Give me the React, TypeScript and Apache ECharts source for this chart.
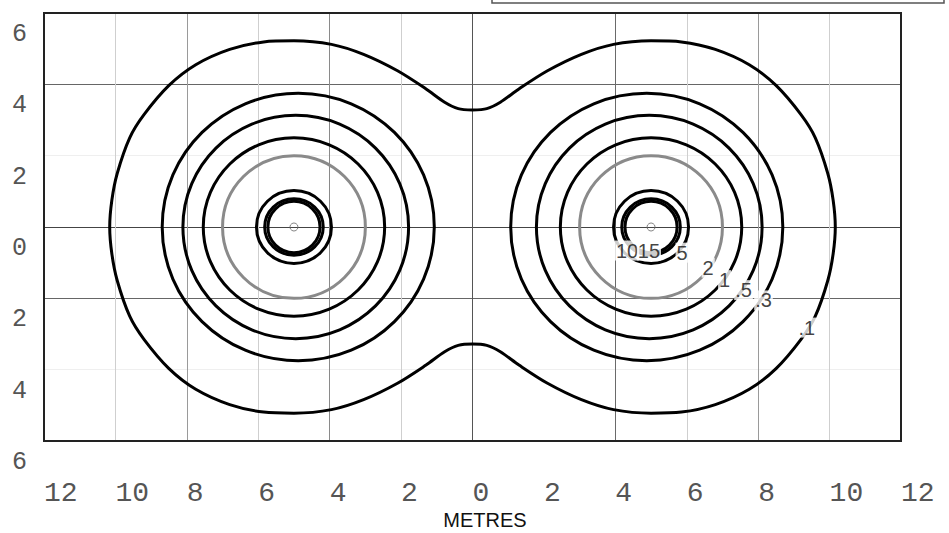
import React, { useEffect, useRef } from "react";
import * as echarts from "echarts";

// Axis ticks (labels shown as distance from centre)
const xTickValues = [-12, -10, -8, -6, -4, -2, 0, 2, 4, 6, 8, 10, 12];
const yTickValues = [-6, -4, -2, 0, 2, 4, 6];
const xGridColors = ["#222", "#cfcfcf", "#9a9a9a", "#cfcfcf", "#8a8a8a", "#cfcfcf", "#555", "rgba(0,0,0,0)", "#6a6a6a", "#cfcfcf", "#9a9a9a", "#cfcfcf", "#222"];
const yGridColors = ["#222", "#efefef", "#666", "#444", "#efefef", "#666", "#222"];

// Light sources (metres)
const sourceX = [-5, 5];
const sourceY = [0, 0];

// Closed contours around each source (level, radii in metres, shift toward centre)
const ringLevels = ["15", "10", "5", "2", "1", ".5", ".3"];
const ringRx = [0.73, 0.82, 1.05, 2.0, 2.54, 3.16, 3.81];
const ringRy = [0.72, 0.79, 1.02, 2.0, 2.5, 3.13, 3.75];
const ringShift = [0, 0, 0, 0, 0, 0.05, 0.12];
const ringColors = ["#000", "#000", "#000", "#8a8a8a", "#000", "#000", "#000"];

// Outer .1 contour, upper-right quadrant (the figure is symmetric)
const outerQuadX = [0, 0.4, 0.78, 1.3, 2.1, 3.05, 3.95, 5.0, 5.85, 6.8, 7.75, 8.5, 9.2, 9.6, 9.95, 10.1, 10.16];
const outerQuadY = [3.28, 3.32, 3.5, 3.87, 4.38, 4.84, 5.12, 5.22, 5.19, 4.98, 4.55, 3.97, 3.15, 2.5, 1.5, 0.75, 0];

// Contour value labels
const labelText = ["10", "15", "5", "2", "1", ".5", ".3", ".1"];
const labelX = [4.33, 4.94, 5.87, 6.6, 7.06, 7.59, 8.15, 9.36];
const labelY = [-0.66, -0.66, -0.72, -1.14, -1.49, -1.77, -2.06, -2.82];

function buildOuter(): number[][] {
  const pts: number[][] = [];
  const n = outerQuadX.length;
  for (let i = 0; i < n; i++) pts.push([outerQuadX[i], outerQuadY[i]]);
  for (let i = n - 2; i >= 0; i--) pts.push([outerQuadX[i], -outerQuadY[i]]);
  for (let i = 1; i < n; i++) pts.push([-outerQuadX[i], -outerQuadY[i]]);
  for (let i = n - 2; i >= 0; i--) pts.push([-outerQuadX[i], outerQuadY[i]]);
  return pts;
}

export default function App() {
  const ref = useRef<HTMLDivElement>(null);
  useEffect(() => {
    if (!ref.current) return;
    const chart = echarts.init(ref.current, undefined, { renderer: "svg" });

    const ringData: any[] = [];
    sourceX.forEach((sx, si) => {
      ringLevels.forEach((lv, ri) => {
        const dir = sx < 0 ? 1 : -1;
        ringData.push({ name: lv, value: [sx + dir * ringShift[ri], sourceY[si], ringRx[ri], ringRy[ri], ri] });
      });
    });

    const option: any = {
      animation: false,
      backgroundColor: "#fff",
      grid: { left: 44, top: 13, width: 857, height: 428, show: false },
      xAxis: {
        type: "value",
        min: -12,
        max: 12,
        interval: 2,
        axisLine: { show: false },
        axisTick: { show: false },
        splitLine: { show: true, lineStyle: { color: xGridColors, width: 1 } },
        axisLabel: {
          formatter: (v: number) => String(Math.abs(v)),
          align: "left",
          margin: 38,
          fontSize: 28,
          fontFamily: "Liberation Mono",
          color: "#555",
        },
      },
      yAxis: {
        type: "value",
        min: -6,
        max: 6,
        interval: 2,
        axisLine: { show: false },
        axisTick: { show: false },
        splitLine: { show: true, lineStyle: { color: yGridColors, width: 1 } },
        axisLabel: {
          formatter: (v: number) => String(Math.abs(v)),
          align: "right",
          verticalAlign: "top",
          padding: [9, 0, 0, 0],
          margin: 17,
          fontSize: 25,
          fontFamily: "Liberation Mono",
          color: "#555",
        },
      },
      graphic: [
        {
          type: "rect",
          shape: { x: 44, y: 13, width: 857, height: 428 },
          style: { fill: "none", stroke: "#222", lineWidth: 2 },
          z: 100,
          silent: true,
        },
        {
          type: "rect",
          shape: { x: 492, y: -6, width: 452, height: 9 },
          style: { fill: "#fff", stroke: "#555", lineWidth: 1.5 },
          z: 100,
        },
        {
          type: "text",
          x: 485,
          y: 520,
          style: { text: "METRES", fontSize: 20, fontFamily: "Liberation Sans", fill: "#111", align: "center", verticalAlign: "middle" },
          z: 100,
        },
      ],
      series: [
        {
          type: "line",
          name: ".1",
          data: buildOuter(),
          showSymbol: false,
          symbol: "none",
          smooth: 0.3,
          lineStyle: { color: "#000", width: 3 },
          z: 3,
        },
        {
          type: "custom",
          name: "rings",
          data: ringData,
          renderItem: (params: any, api: any) => {
            const c = api.coord([api.value(0), api.value(1)]);
            const rx = api.size([api.value(2), 0])[0];
            const ry = api.size([0, api.value(3)])[1];
            const ri = api.value(4);
            return {
              type: "ellipse",
              shape: { cx: c[0], cy: c[1], rx, ry },
              style: { fill: "none", stroke: ringColors[ri], lineWidth: 3 },
            };
          },
          z: 3,
        },
        {
          type: "scatter",
          name: "sources",
          data: sourceX.map((x, i) => [x, sourceY[i]]),
          symbol: "circle",
          symbolSize: 8,
          itemStyle: { color: "rgba(255,255,255,0)", borderColor: "#666", borderWidth: 1 },
          z: 4,
        },
        {
          type: "scatter",
          name: "labels",
          data: labelText.map((t, i) => ({ name: t, value: [labelX[i], labelY[i]] })),
          symbolSize: 1,
          itemStyle: { color: "rgba(0,0,0,0)" },
          label: {
            show: true,
            position: "inside",
            formatter: (p: any) => p.name,
            fontSize: 20,
            fontFamily: "Liberation Sans",
            color: "#111",
            backgroundColor: "#fff",
            padding: [0, 1, 0, 1],
          },
          z: 10,
        },
      ],
    };
    chart.setOption(option);
    return () => chart.dispose();
  }, []);
  return <div ref={ref} style={{ position: "fixed", left: 0, top: 0, width: 949, height: 533 }} />;
}
